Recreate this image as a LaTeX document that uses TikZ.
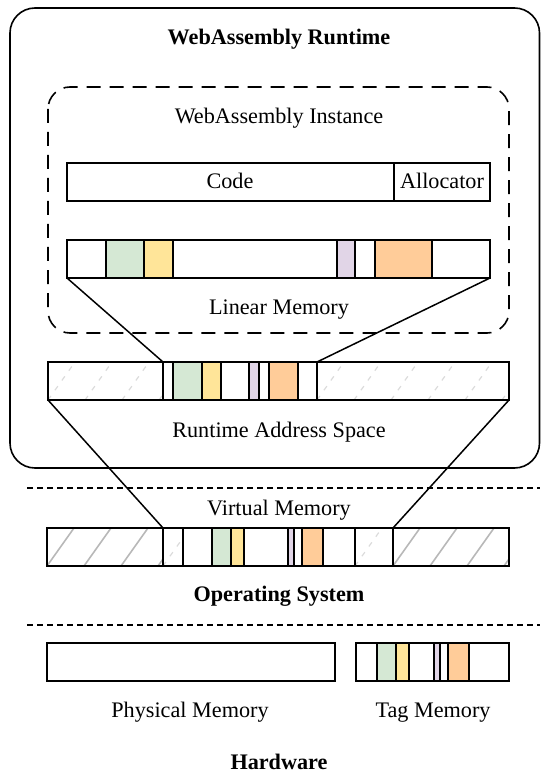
\documentclass[tikz,border=0pt]{standalone}
\usepackage{fontspec}
\setmainfont{Liberation Serif}
\definecolor{cgreen}{HTML}{D5E8D4}
\definecolor{cyellow}{HTML}{FFE599}
\definecolor{cpurple}{HTML}{E1D5E7}
\definecolor{corange}{HTML}{FFCC99}
\tikzset{
  cellbox/.style={draw, line width=1.6pt, inner sep=0pt, outer sep=0pt, anchor=north west},
  lbl/.style={font=\fontsize{22.2}{26}\selectfont, anchor=base, inner sep=0pt},
  blbl/.style={font=\fontsize{22.2}{26}\selectfont\bfseries, anchor=base, inner sep=0pt},
  conn/.style={line width=1.5pt},
  darkhatch/.style={draw=black!28, line width=1.6pt},
  lighthatch/.style={draw=black!14, line width=1.2pt, dash pattern=on 5pt off 7pt},
  sepline/.style={line width=1.3pt, dash pattern=on 6pt off 4pt},
}
% #1 name, #2 x1, #3 x2, #4 y1, #5 y2, #6 fill
\newcommand\cellnode[6]{\node[cellbox, fill=#6, minimum width={(#3-#2)*1pt}, minimum height={(#5-#4)*1pt}] (#1) at (#2,#4) {};}
% #1 x1, #2 x2, #3 y1, #4 y2, #5 style
\newcommand\hatcharea[5]{\begin{scope}\clip (#1,#3) rectangle (#2,#4);
  \foreach \k in {-2,...,7} \draw[#5] ({#1+\k*37},#4) -- ++(27,-38);\end{scope}}
\begin{document}
\begin{tikzpicture}[x=1pt,y=-1pt]
\useasboundingbox (0,0) rectangle (540,775);
% outer runtime frame
\draw[line width=1.6pt, rounded corners=25pt] (10,8) rectangle (539.5,468);
\node[blbl] (trt) at (279,45) {WebAssembly Runtime};
% instance frame
\draw[line width=1.6pt, rounded corners=22pt, dash pattern=on 14pt off 9pt] (48,87) rectangle (509,333);
\node[lbl] (tinst) at (279,124) {WebAssembly Instance};
% code / allocator
\cellnode{code}{67}{394}{163}{201}{white}
\cellnode{alloc}{394}{490}{163}{201}{white}
\node[lbl] (tcode) at (230,189) {Code};
\node[lbl] (talloc) at (442,189) {Allocator};
% linear memory
\cellnode{lm1}{67}{106}{240}{278}{white}
\cellnode{lm2}{106}{144}{240}{278}{cgreen}
\cellnode{lm3}{144}{173}{240}{278}{cyellow}
\cellnode{lm4}{173}{337}{240}{278}{white}
\cellnode{lm5}{337}{355}{240}{278}{cpurple}
\cellnode{lm6}{355}{375}{240}{278}{white}
\cellnode{lm7}{375}{432}{240}{278}{corange}
\cellnode{lm8}{432}{490}{240}{278}{white}
\node[lbl] (tlm) at (279,314) {Linear Memory};
% runtime address space
\hatcharea{48}{163}{362}{400}{lighthatch}
\hatcharea{317}{509}{362}{400}{lighthatch}
\cellnode{ra1}{48}{163}{362}{400}{none}
\cellnode{ra2}{163}{173}{362}{400}{white}
\cellnode{ra3}{173}{202}{362}{400}{cgreen}
\cellnode{ra4}{202}{221}{362}{400}{cyellow}
\cellnode{ra5}{221}{249}{362}{400}{white}
\cellnode{ra6}{249}{259}{362}{400}{cpurple}
\cellnode{ra7}{259}{269}{362}{400}{white}
\cellnode{ra8}{269}{298}{362}{400}{corange}
\cellnode{ra9}{298}{317}{362}{400}{white}
\cellnode{ra10}{317}{509}{362}{400}{none}
\node[lbl] (tra) at (279,437) {Runtime Address Space};
% connectors linear -> runtime
\draw[conn] (lm1.south west) -- (ra2.north west);
\draw[conn] (lm8.south east) -- (ra9.north east);
% separator OS
\coordinate (s1a) at (27,488);
\coordinate (s1b) at (540,488);
\draw[sepline] (s1a) -- (s1b);
\node[lbl] (tvm) at (279,515) {Virtual Memory};
% virtual memory
\hatcharea{47}{163}{528}{566}{darkhatch}
\hatcharea{393}{509}{528}{566}{darkhatch}
\hatcharea{163}{183}{528}{566}{lighthatch}
\hatcharea{355}{393}{528}{566}{lighthatch}
\cellnode{vm1}{47}{163}{528}{566}{none}
\cellnode{vm2}{163}{183}{528}{566}{none}
\cellnode{vm3}{183}{212}{528}{566}{white}
\cellnode{vm4}{212}{231}{528}{566}{cgreen}
\cellnode{vm5}{231}{244}{528}{566}{cyellow}
\cellnode{vm6}{244}{288}{528}{566}{white}
\cellnode{vm7}{288}{294}{528}{566}{cpurple}
\cellnode{vm8}{294}{302}{528}{566}{white}
\cellnode{vm9}{302}{323}{528}{566}{corange}
\cellnode{vm10}{323}{355}{528}{566}{white}
\cellnode{vm11}{355}{393}{528}{566}{none}
\cellnode{vm12}{393}{509}{528}{566}{none}
% connectors runtime -> virtual
\draw[conn] (ra1.south west) -- (vm2.north west);
\draw[conn] (ra10.south east) -- (vm11.north east);
\node[blbl] (tos) at (279,601) {Operating System};
% separator hardware
\coordinate (s2a) at (27,625);
\coordinate (s2b) at (540,625);
\draw[sepline] (s2a) -- (s2b);
% physical and tag memory
\cellnode{phys}{47}{335}{643}{681}{white}
\cellnode{tg1}{356}{377}{643}{681}{white}
\cellnode{tg2}{377}{396}{643}{681}{cgreen}
\cellnode{tg3}{396}{409}{643}{681}{cyellow}
\cellnode{tg4}{409}{434}{643}{681}{white}
\cellnode{tg5}{434}{440}{643}{681}{cpurple}
\cellnode{tg6}{440}{448}{643}{681}{white}
\cellnode{tg7}{448}{469}{643}{681}{corange}
\cellnode{tg8}{469}{509}{643}{681}{white}
\node[lbl] (tphys) at (190,717) {Physical Memory};
\node[lbl] (ttag) at (433,717) {Tag Memory};
\node[blbl] (thw) at (279,769) {Hardware};
\end{tikzpicture}
\end{document}
